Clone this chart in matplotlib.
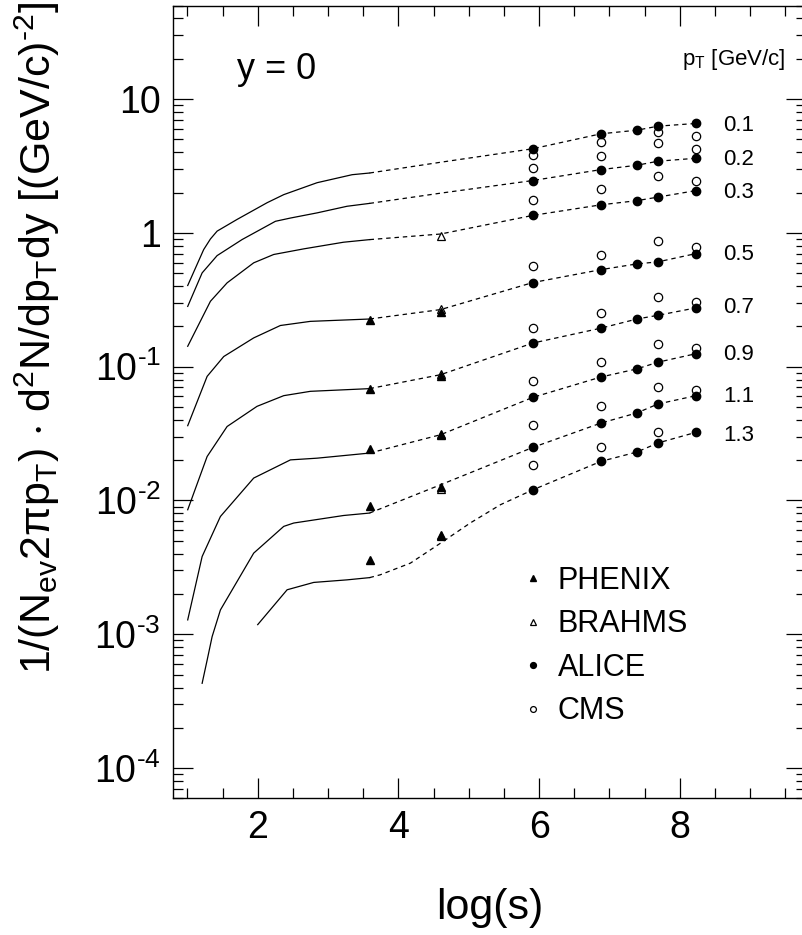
import numpy as np
import matplotlib
matplotlib.use("Agg")
import matplotlib.pyplot as plt
from matplotlib.ticker import FixedLocator, MultipleLocator, LogLocator, NullFormatter, FixedFormatter
from matplotlib.lines import Line2D

plt.rcParams["font.family"] = ["Liberation Sans", "DejaVu Sans"]
plt.rcParams["mathtext.fontset"] = "custom"
plt.rcParams["mathtext.rm"] = "Liberation Sans"
plt.rcParams["mathtext.it"] = "Liberation Sans"
plt.rcParams["mathtext.default"] = "regular"
plt.rcParams["lines.scale_dashes"] = False

# ---- data ----
pt_labels = ["0.1", "0.2", "0.3", "0.5", "0.7", "0.9", "1.1", "1.3"]
pt_label_y = [6.35, 3.53, 2.0, 0.688, 0.276, 0.1227, 0.0596, 0.0305]

# log10(s) of each collision energy
e_alice = [5.91, 6.88, 7.39, 7.69, 8.23]
e_cms = [5.91, 6.88, 7.69, 8.23]
e_phenix = [3.59, 4.60]
e_brahms = [4.60]

alice = [
    [4.25, 5.50, 5.85, 6.27, 6.57],
    [2.46, 2.97, 3.20, 3.43, 3.61],
    [1.35, 1.62, 1.74, 1.85, 2.07],
    [0.425, 0.531, 0.586, 0.607, 0.700],
    [0.150, 0.194, 0.227, 0.242, 0.275],
    [0.0589, 0.0837, 0.0962, 0.108, 0.125],
    [0.0249, 0.0379, 0.0451, 0.0526, 0.0607],
    [0.0120, 0.0196, 0.0230, 0.0269, 0.0323],
]
cms = [
    [3.85, 4.76, 5.69, 5.28],
    [3.03, 3.74, 4.71, 4.25],
    [1.75, 2.13, 2.65, 2.43],
    [0.563, 0.684, 0.865, 0.785],
    [0.195, 0.252, 0.330, 0.305],
    [0.0776, 0.108, 0.148, 0.139],
    [0.0368, 0.0511, 0.0705, 0.0673],
    [0.0185, 0.0251, 0.0325, np.nan],
]
# PHENIX: pT 0.5 .. 1.3
phenix = [
    [0.2245, 0.257],
    [0.0685, 0.0847],
    [0.0244, 0.0310],
    [0.00902, 0.0126],
    [0.00360, 0.00554],
]
# BRAHMS: pT 0.3 .. 1.3
brahms = [0.944, 0.270, 0.0882, 0.0315, 0.0122, 0.00538]

# model curves, solid part (low energies)
solid_x = [
    [1.005, 1.232, 1.328, 1.423, 1.707, 2.134, 2.37, 2.844, 3.342, 3.59],
    [1.005, 1.21, 1.423, 1.778, 2.252, 2.465, 2.844, 3.27, 3.59],
    [1.005, 1.328, 1.565, 1.943, 2.227, 2.654, 3.22, 3.59],
    [1.005, 1.281, 1.517, 1.943, 2.322, 2.749, 3.59],
    [1.005, 1.281, 1.565, 1.99, 2.37, 2.749, 3.59],
    [1.005, 1.21, 1.47, 1.943, 2.465, 2.844, 3.59],
    [1.21, 1.281, 1.352, 1.47, 1.943, 2.37, 2.512, 3.222, 3.59],
    [2.0, 2.418, 2.796, 3.27, 3.59],
]
solid_y = [
    [0.404, 0.75, 0.90, 1.03, 1.26, 1.68, 1.93, 2.37, 2.72, 2.80],
    [0.282, 0.502, 0.676, 0.891, 1.22, 1.29, 1.41, 1.58, 1.66],
    [0.142, 0.308, 0.423, 0.597, 0.689, 0.759, 0.851, 0.89],
    [0.0362, 0.0846, 0.119, 0.164, 0.203, 0.218, 0.227],
    [0.00852, 0.0213, 0.0357, 0.0505, 0.0607, 0.0654, 0.0685],
    [0.00128, 0.00381, 0.00759, 0.0147, 0.0201, 0.0207, 0.0226],
    [0.00043, 0.00064, 0.00096, 0.00152, 0.00404, 0.0064, 0.00678, 0.00772, 0.00805],
    [0.00118, 0.00215, 0.00244, 0.00255, 0.00265],
]
# dashed part between the end of the solid curve and the ALICE points
link_x = [[4.60], [4.60], [4.60], [4.60], [4.60], [4.60], [4.60],
          [3.74, 4.17, 4.60, 5.02, 5.45]]
link_y = [[3.37], [1.98], [0.98], [0.267], [0.0871], [0.031], [0.0131],
          [0.00278, 0.0034, 0.0048, 0.00678, 0.00929]]

fig = plt.figure(figsize=(8.03, 9.35), dpi=100, facecolor="white")
ax = fig.add_axes([0.2158, 0.1468, 0.7885, 0.8473])
ax.set_xlim(0.8, 9.8)
ax.set_yscale("log")
ax.set_ylim(6e-5, 50)

for i in range(len(pt_labels)):
    ax.plot(solid_x[i], solid_y[i], color="black", lw=0.9)
    dx = [solid_x[i][-1]] + link_x[i] + e_alice
    dy = [solid_y[i][-1]] + link_y[i] + alice[i]
    ax.plot(dx, dy, color="black", lw=0.9, ls="--", dashes=(3.2, 2.8))

ms = 6
for i in range(len(pt_labels)):
    ax.plot(e_cms, cms[i], "o", ms=ms, mfc="white", mec="black", mew=0.9, ls="none", zorder=3)
for v in brahms:
    ax.plot(e_brahms, [v], "^", ms=ms, mfc="white", mec="black", mew=0.9, ls="none", zorder=3)
for row in phenix:
    ax.plot(e_phenix, row, "^", ms=ms, color="black", ls="none", zorder=4)
for i in range(len(pt_labels)):
    ax.plot(e_alice, alice[i], "o", ms=ms, color="black", ls="none", zorder=4)

for lab, yy in zip(pt_labels, pt_label_y):
    ax.text(8.62, yy, lab, fontsize=16, va="center", ha="left")
ax.text(9.5, 19.8, r"p$_{T}$ [GeV/c]", fontsize=16, va="center", ha="right")
ax.text(1.70, 14.0, "y = 0", fontsize=26, va="baseline", ha="left")

# legend
handles = [
    Line2D([], [], marker="^", color="black", ls="none", ms=ms),
    Line2D([], [], marker="^", mfc="white", mec="black", mew=0.9, ls="none", ms=ms),
    Line2D([], [], marker="o", color="black", ls="none", ms=ms),
    Line2D([], [], marker="o", mfc="white", mec="black", mew=0.9, ls="none", ms=ms),
]
ax.legend(handles, ["PHENIX", "BRAHMS", "ALICE", "CMS"], loc="upper left",
          bbox_to_anchor=(0.535, 0.308), frameon=False, fontsize=22,
          markerscale=0.7, handlelength=0.6, handletextpad=0.5,
          labelspacing=0.44, borderaxespad=0)

# axes styling
ax.xaxis.set_major_locator(MultipleLocator(2))
ax.xaxis.set_minor_locator(MultipleLocator(0.5))
ax.yaxis.set_major_locator(FixedLocator([1e-4, 1e-3, 1e-2, 1e-1, 1, 10]))
ax.yaxis.set_major_formatter(FixedFormatter(
    [r"$10^{\text{-}4}$", r"$10^{\text{-}3}$", r"$10^{\text{-}2}$",
     r"$10^{\text{-}1}$", "1", "10"]))
ax.yaxis.set_minor_locator(LogLocator(base=10, subs=np.arange(2, 10)))
ax.yaxis.set_minor_formatter(NullFormatter())
ax.tick_params(which="both", direction="in", top=True, right=True, width=0.9)
ax.tick_params(which="major", length=14.5, labelsize=27, pad=9)
ax.tick_params(which="minor", length=7.5)
for sp in ax.spines.values():
    sp.set_linewidth(1.0)

ax.set_xlabel("log(s)", fontsize=31, labelpad=30)
fig.text(0.047, 0.998,
         r"1/(N$_{ev}$2$\pi$p$_{T}$) $\cdot$ d$^{2}$N/dp$_{T}$dy [(GeV/c)$^{\text{-}2}$]",
         rotation=90, ha="center", va="top", fontsize=31)

fig.savefig("out.png", dpi=100, facecolor="white")
